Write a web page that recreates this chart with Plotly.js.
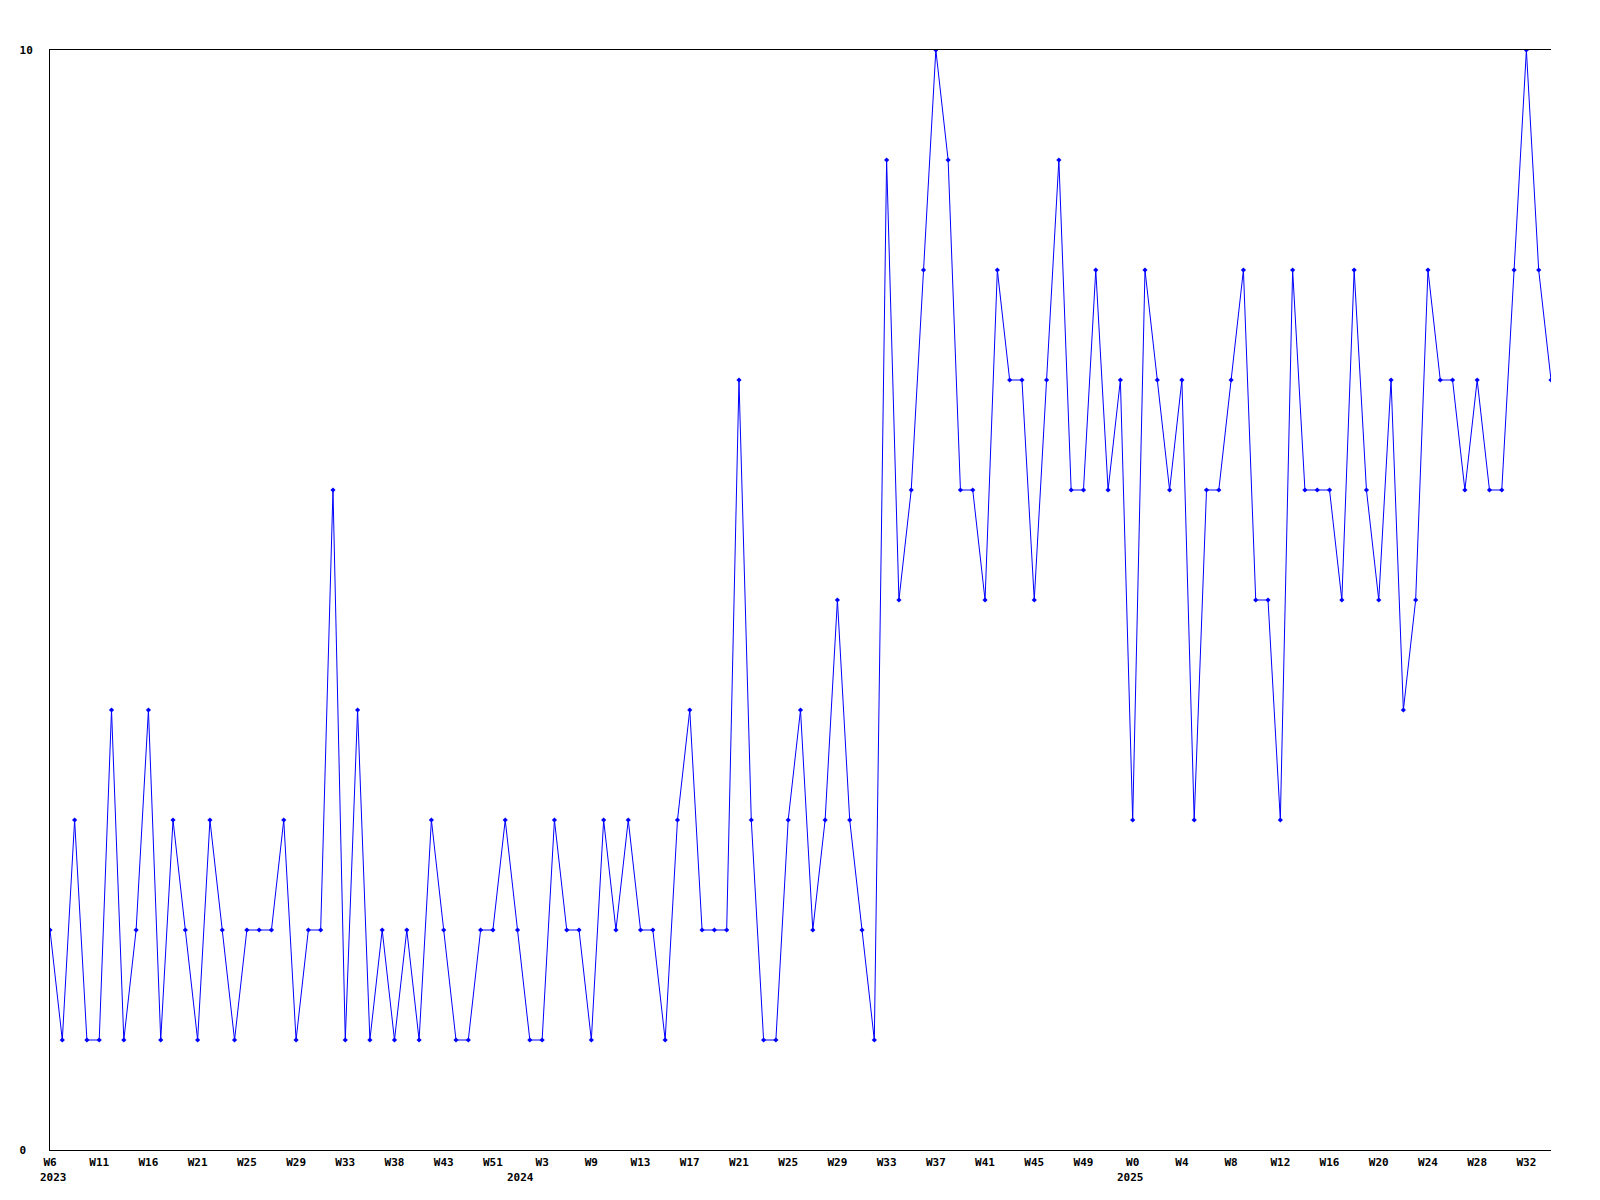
<!DOCTYPE html>
<html>
<head>
<meta charset="utf-8">
<script src="https://cdn.plot.ly/plotly-3.0.1.min.js"></script>
<style>
  html, body { margin: 0; padding: 0; background: #ffffff; }
  #chart { width: 1600px; height: 1200px; }
</style>
</head>
<body>
<div id="chart"></div>
<script>
// Weekly values, one per point
const values = [
  2,1,3,1,1,4,1,2,4,1,
  3,2,1,3,2,1,2,2,2,3,
  1,2,2,6,1,4,1,2,1,2,
  1,3,2,1,1,2,2,3,2,1,
  1,3,2,2,1,3,2,3,2,2,
  1,3,4,2,2,2,7,3,1,1,
  3,4,2,3,5,3,2,1,9,5,
  6,8,10,9,6,6,5,8,7,7,
  5,7,9,6,6,8,6,7,3,8,
  7,6,7,3,6,6,7,8,5,5,
  3,8,6,6,6,5,8,6,5,7,
  4,5,8,7,7,6,7,6,6,8,
  10,8,7
];

// X tick labels (week), one every 4 points
const xTickLabels = [
  "W6","W11","W16","W21","W25","W29","W33","W38","W43","W51",
  "W3","W9","W13","W17","W21","W25","W29","W33","W37","W41",
  "W45","W49","W0","W4","W8","W12","W16","W20","W24","W28","W32"
];
const xTickStep = 4;

// Year labels and where they sit along the point index axis
const yearLabels = ["2023", "2024", "2025"];
const yearPositions = [0.28, 38.23, 87.86];

// Y tick labels
const yTickValues = [0, 10];
const yTickLabels = ["0\u00A0", "10"];

const xIndex = values.map((_, i) => i);
const xTickVals = xTickLabels.map((_, k) => k * xTickStep);

const tickFont = { family: "DejaVu Sans Mono, Liberation Mono, monospace", size: 11, color: "#000000", weight: "bold" };

const trace = {
  x: xIndex,
  y: values,
  type: "scatter",
  mode: "lines+markers",
  line: { color: "#0000ff", width: 1 },
  marker: { color: "#0000ff", symbol: "diamond", size: 4 },
  hoverinfo: "skip"
};

const annotations = yearLabels.map((t, k) => ({
  text: t,
  x: yearPositions[k],
  xref: "x",
  y: 0,
  yref: "paper",
  xanchor: "center",
  yanchor: "middle",
  yshift: -27.5,
  showarrow: false,
  font: tickFont
}));

const layout = {
  width: 1600,
  height: 1200,
  margin: { l: 50, r: 49, t: 50, b: 50, pad: 0 },
  paper_bgcolor: "#ffffff",
  plot_bgcolor: "#ffffff",
  showlegend: false,
  annotations: annotations,
  xaxis: {
    range: [0, values.length - 1],
    tickmode: "array",
    tickvals: xTickVals,
    ticktext: xTickLabels,
    ticks: "",
    showgrid: false,
    zeroline: false,
    showline: true,
    mirror: true,
    linecolor: "#000000",
    linewidth: 1,
    tickfont: tickFont,
    ticklabelstandoff: 2,
    fixedrange: true
  },
  yaxis: {
    range: [0, 10],
    tickmode: "array",
    tickvals: yTickValues,
    ticktext: yTickLabels,
    ticks: "",
    showgrid: false,
    zeroline: false,
    showline: true,
    linecolor: "#000000",
    linewidth: 1,
    tickfont: tickFont,
    ticklabelstandoff: 14,
    fixedrange: true
  }
};

Plotly.newPlot("chart", [trace], layout, { displayModeBar: false, staticPlot: true });
</script>
</body>
</html>
